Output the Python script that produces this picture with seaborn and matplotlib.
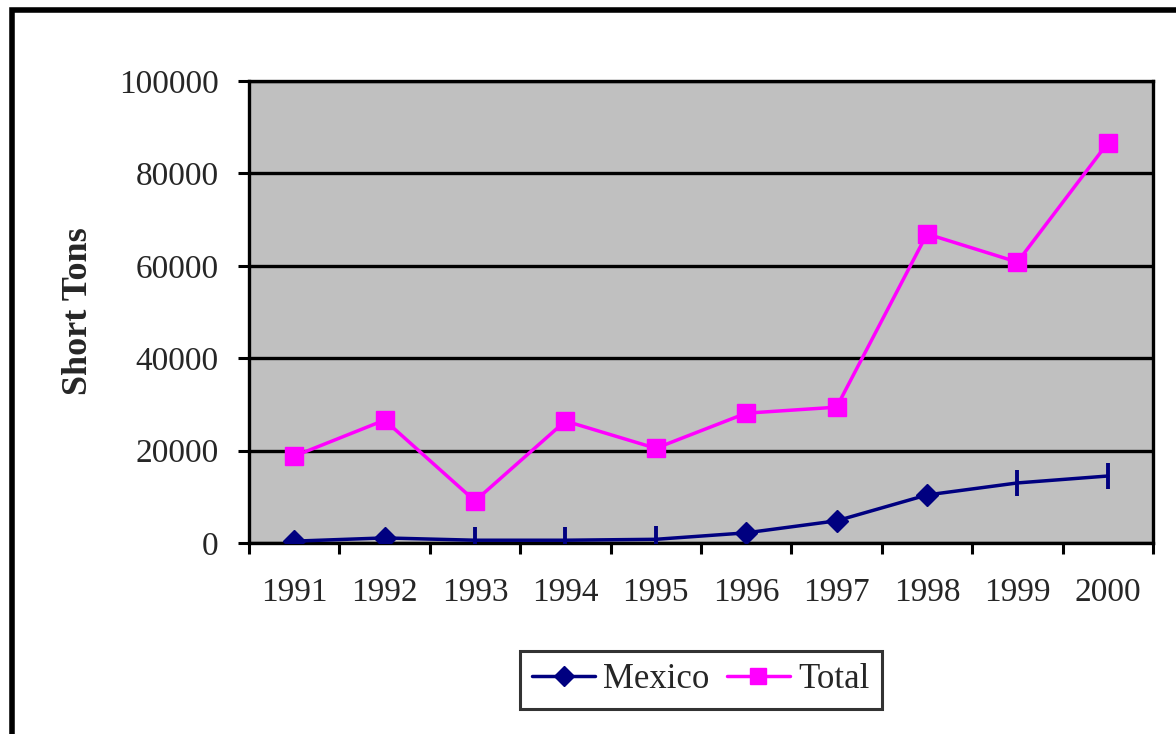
import numpy as np
import pandas as pd
import matplotlib
matplotlib.use("Agg")
import matplotlib.pyplot as plt
from matplotlib.lines import Line2D
from matplotlib.patches import Rectangle
import seaborn as sns

# Shipments by year, in short tons
years = ["1991", "1992", "1993", "1994", "1995", "1996", "1997", "1998", "1999", "2000"]
mexico = [400, 1100, 600, 600, 800, 2200, 4800, 10400, 13000, 14500]
total = [18800, 26600, 9100, 26400, 20500, 28100, 29400, 66900, 60800, 86600]
series_names = ["Mexico", "Total"]
y_ticks = [0, 20000, 40000, 60000, 80000, 100000]

navy = "#000080"
magenta = "#FF00FF"

sns.set_theme(style="white")
plt.rcParams["font.family"] = ["Liberation Serif", "DejaVu Serif"]

pos = np.arange(len(years))
df = pd.DataFrame({
    "pos": np.concatenate([pos, pos]),
    "tons": mexico + total,
    "series": [series_names[0]] * len(years) + [series_names[1]] * len(years),
})

fig = plt.figure(figsize=(11.76, 7.34), dpi=100)
ax = fig.add_axes([249 / 1176, 1 - 543 / 734, 904 / 1176, 462 / 734])
ax.set_facecolor("#C0C0C0")

sns.lineplot(data=df, x="pos", y="tons", hue="series",
             palette={"Mexico": navy, "Total": magenta},
             linewidth=2.5, legend=False, ax=ax, zorder=3)

# Mexico point markers: diamonds, with some points drawn as short bars
diamond_idx = [0, 1, 5, 6, 7]
bar_idx = [2, 3, 4, 8, 9]
ax.plot(pos[diamond_idx], [mexico[i] for i in diamond_idx], linestyle="none",
        marker="D", markersize=11, color=navy, zorder=4)
ax.plot(pos[bar_idx], [mexico[i] for i in bar_idx], linestyle="none",
        marker="|", markersize=19, markeredgewidth=2.8, color=navy, zorder=4)
# Total point markers: squares
ax.plot(pos, total, linestyle="none", marker="s", markersize=13,
        color=magenta, zorder=5)

ax.set_xlim(-0.5, len(years) - 0.5)
ax.set_ylim(0, 100000)
ax.set_yticks(y_ticks)
ax.set_yticklabels([str(v) for v in y_ticks], fontsize=24)
ax.yaxis.grid(True, color="black", linewidth=2.4)
ax.xaxis.grid(False)

# category labels centred, tick marks at category boundaries
ax.set_xticks(np.arange(-0.5, len(years), 1.0))
ax.set_xticklabels([])
ax.set_xticks(pos, minor=True)
ax.set_xticklabels(years, minor=True, fontsize=24)
ax.tick_params(axis="x", which="major", direction="out", length=8, width=2.2,
               color="black", bottom=True)
ax.tick_params(axis="x", which="minor", length=0, pad=25, bottom=True)
ax.tick_params(axis="y", direction="out", length=8, width=2.2, color="black",
               left=True, pad=14)

for sp in ax.spines.values():
    sp.set_color("black")
    sp.set_linewidth(2.4)

ax.set_xlabel("")
ax.set_ylabel("Short Tons", fontsize=26, fontweight="bold")
ax.yaxis.set_label_coords(-0.170, 0.502)

handles = [
    Line2D([], [], color=navy, linewidth=2.5, marker="D", markersize=10),
    Line2D([], [], color=magenta, linewidth=2.5, marker="s", markersize=11),
]
leg = fig.legend(handles, series_names, loc="center",
                 bbox_to_anchor=(701 / 1176, 1 - 680 / 734), ncol=2,
                 fontsize=25, frameon=True, fancybox=False, handlelength=1.8,
                 handletextpad=0.25, columnspacing=0.5, borderpad=0.35,
                 borderaxespad=0)
leg.get_frame().set_edgecolor("black")
leg.get_frame().set_linewidth(2.2)

# outer chart border
fig.patches.append(Rectangle((12 / 1176, -0.05), 1.2, 1 - 10 / 734 + 0.05,
                             transform=fig.transFigure, fill=False,
                             edgecolor="black", linewidth=4, clip_on=False))

fig.savefig("out.png", dpi=100)
